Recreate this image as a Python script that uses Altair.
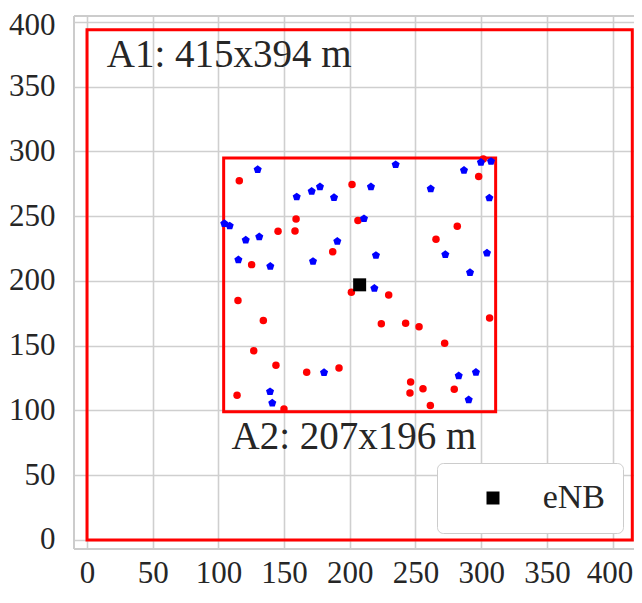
import altair as alt
import pandas as pd

# Outer area A1 and inner area A2 (metres)
rect_x1 = [0, 104]
rect_x2 = [415, 311]
rect_y1 = [0, 99]
rect_y2 = [394, 295]

# eNB position
enb_x = [207.5]
enb_y = [197]
enb_label = ["eNB"]

# Red users
red_x = [115.9, 201.7, 298.1, 301.6, 159.1, 206.2, 145.4, 158.3, 281.8, 265.6, 187.0, 125.3,
         201.2, 229.6, 114.9, 134.2, 224.0, 242.5, 252.7, 306.4, 272.2, 126.9, 143.8, 167.2,
         191.8, 246.3, 245.8, 255.7, 279.5, 114.2, 149.9, 261.3]
red_y = [277.3, 274.5, 280.6, 294.1, 247.9, 246.6, 238.3, 238.6, 242.3, 232.2, 222.5, 212.6,
         191.2, 189.2, 184.9, 169.4, 166.9, 167.4, 164.6, 171.4, 151.9, 146.1, 134.9, 129.5,
         132.8, 121.9, 113.5, 116.8, 116.3, 111.8, 101.1, 103.8]

# Blue users
blue_x = [129.9, 234.9, 286.9, 299.8, 307.5, 306.2, 159.6, 171.0, 177.3, 188.0, 216.1, 261.6,
          104.5, 108.6, 210.8, 120.8, 131.1, 190.5, 115.2, 139.5, 172.0, 219.9, 272.7, 304.4,
          291.5, 218.7, 180.4, 139.3, 141.0, 282.9, 296.0, 290.5]
blue_y = [286.1, 289.8, 285.5, 291.6, 292.3, 264.1, 264.9, 269.2, 272.7, 264.4, 272.7, 271.2,
          244.3, 242.5, 248.1, 231.6, 234.1, 230.6, 216.4, 211.3, 215.1, 219.7, 220.4, 221.5,
          206.5, 194.3, 129.3, 114.5, 105.7, 126.7, 129.5, 108.2]

# Annotations
ann_text = ["A1: 415x394 m", "A2: 207x196 m"]
ann_x = [15, 110]
ann_y = [365, 70]

ticks = [0, 50, 100, 150, 200, 250, 300, 350, 400]

FONT = "Liberation Serif"
TXT = "#262626"
SPINE = "#cccccc"
W, H = 560, 533

xs = alt.Scale(domain=[-9.9, 416.3], nice=False, zero=False)
ys = alt.Scale(domain=[-7, 404.6], nice=False, zero=False)

xax = alt.Axis(values=ticks, title=None, ticks=False, domain=False, labelPadding=9,
               labelFontSize=31, labelFont=FONT, labelColor=TXT, grid=True,
               gridColor="#cfcfcf", gridWidth=1.6, labelFlush=False,
               labelOffset={"condition": {"test": "datum.value == 400", "value": -3},
                            "value": 0})
yax = alt.Axis(values=ticks, title=None, ticks=False, domain=False, labelPadding=19,
               labelFontSize=31, labelFont=FONT, labelColor=TXT, grid=True,
               gridColor="#cfcfcf", gridWidth=1.6, labelFlush=False,
               labelOffset={"condition": {"test": "datum.value == 400", "value": 4},
                            "value": 0})

rects = pd.DataFrame({"x1": rect_x1, "x2": rect_x2, "y1": rect_y1, "y2": rect_y2})
rect_layer = alt.Chart(rects).mark_rect(filled=False, stroke="red", strokeWidth=3).encode(
    x=alt.X("x1:Q", scale=xs, axis=xax),
    x2="x2:Q",
    y=alt.Y("y1:Q", scale=ys, axis=yax),
    y2="y2:Q",
)

# axes frame (left, top, bottom spines; right one lies outside the picture)
frame_left = alt.Chart().mark_rule(color=SPINE, strokeWidth=2).encode(
    x=alt.value(0), y=alt.value(0), y2=alt.value(H))
frame_top = alt.Chart().mark_rule(color=SPINE, strokeWidth=2).encode(
    x=alt.value(0), x2=alt.value(W), y=alt.value(0))
frame_bottom = alt.Chart().mark_rule(color=SPINE, strokeWidth=2).encode(
    x=alt.value(0), x2=alt.value(W), y=alt.value(H))

red_df = pd.DataFrame({"x": red_x, "y": red_y})
red_layer = alt.Chart(red_df).mark_point(filled=True, shape="circle", size=56, color="red",
                                         opacity=1).encode(
    x=alt.X("x:Q", scale=xs, axis=xax), y=alt.Y("y:Q", scale=ys, axis=yax))

pent = "M0,-1L0.951,-0.309L0.588,0.809L-0.588,0.809L-0.951,-0.309Z"
blue_df = pd.DataFrame({"x": blue_x, "y": blue_y})
blue_layer = alt.Chart(blue_df).mark_point(filled=True, shape=pent, size=72, color="blue",
                                           opacity=1).encode(
    x=alt.X("x:Q", scale=xs, axis=xax), y=alt.Y("y:Q", scale=ys, axis=yax))

enb_df = pd.DataFrame({"x": enb_x, "y": enb_y, "label": enb_label})
enb_layer = alt.Chart(enb_df).mark_point(filled=True, shape="square", size=169, opacity=1).encode(
    x=alt.X("x:Q", scale=xs, axis=xax),
    y=alt.Y("y:Q", scale=ys, axis=yax),
    color=alt.Color("label:N", scale=alt.Scale(range=["black"]),
                    legend=alt.Legend(title=None, orient="none", legendX=363, legendY=447,
                                      padding=18, fillColor="white", strokeColor=SPINE,
                                      cornerRadius=6, symbolType="square",
                                      symbolSize=169, symbolStrokeWidth=0, symbolOffset=21,
                                      labelOffset=95, labelAlign="right", labelFontSize=34,
                                      labelFont=FONT, labelColor=TXT)),
)

ann_df = pd.DataFrame({"x": ann_x, "y": ann_y, "t": ann_text})
ann_layer = alt.Chart(ann_df).mark_text(align="left", baseline="alphabetic", fontSize=39,
                                        font=FONT, color=TXT).encode(
    x=alt.X("x:Q", scale=xs, axis=xax), y=alt.Y("y:Q", scale=ys, axis=yax), text="t:N")

chart = alt.layer(rect_layer, frame_left, frame_top, frame_bottom, red_layer, blue_layer,
                  enb_layer, ann_layer).properties(
    width=W, height=H,
    padding={"left": 66, "top": 8, "right": 0, "bottom": 42},
    autosize=alt.AutoSizeParams(type="none"),
).configure_view(stroke=None).configure_legend(
    strokeWidth=1.5).configure(background="white")

chart.save("out.html", embed_options={"renderer": "svg", "actions": False})
